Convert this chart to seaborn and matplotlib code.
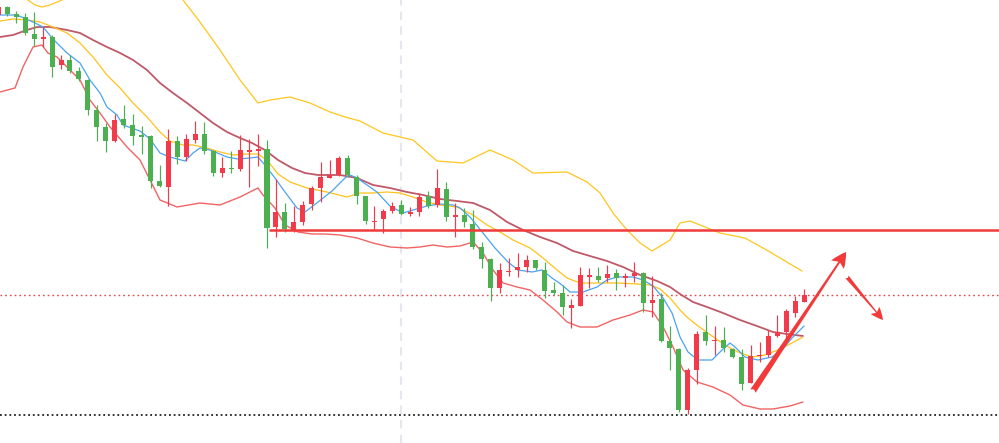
import numpy as np
import matplotlib
matplotlib.use("Agg")
import matplotlib.pyplot as plt
import seaborn as sns
from matplotlib.patches import FancyArrowPatch

sns.set_theme(style="white")
plt.rcParams['font.family'] = ['DejaVu Sans']

# ---------------- candle data (arbitrary price units) ----------------
bar_index = list(range(-1, 90))
opens = [428, 436, 429, 426, 409, 404, 406, 378, 383, 372, 363, 333, 316, 302, 324, 318, 307.5, 307, 262, 256,
         302, 286, 303, 309, 292, 270, 275, 274, 291.5, 292.5, 294, 216, 231, 213, 221, 239, 255, 265.5, 268, 285,
         266, 247, 221, 224, 232, 238, 229, 231, 247, 238, 254, 226.5, 228, 219, 196, 184, 155, 171, 173, 176,
         183, 173, 153, 150, 135, 137, 166.5, 167, 165, 170, 165, 167, 170, 140, 144, 102, 94, 33, 73, 111,
         102, 103, 94, 86, 60, 87, 88, 107, 111, 130, 141]
highs = [438, 437, 432, 430, 431, 416, 408, 388, 388, 376, 364, 338, 320, 329, 338, 329, 317, 308, 278, 314,
         307, 309, 322, 321, 293, 286, 292, 308, 304, 309, 303, 264, 240, 237, 242, 257, 281, 283, 287, 288,
         268, 247, 237, 234, 241, 243, 236, 250, 252, 274, 261, 240, 235, 233, 201, 185, 180, 185, 190, 188,
         183, 181, 161, 158, 144, 176, 175, 176, 178, 174, 170, 181, 171, 167, 150, 117, 95, 75, 112, 128,
         117, 116, 95, 94, 98, 101, 113, 128, 134, 147, 154]
lows = [426, 427, 420, 408, 397, 396, 366, 374, 370, 362, 328, 302, 291, 301, 315, 298, 289, 255, 256, 237,
        279, 282, 300, 289, 267, 266, 270, 272, 256, 277, 195, 206, 211, 211, 218, 233, 241, 265, 267, 266,
        239, 219, 213, 210, 230, 228, 227, 227, 235, 236, 222, 206, 216, 194, 175, 142, 150, 167, 166, 171,
        173, 145, 148, 128, 115, 137, 155, 161, 161, 153, 156, 161, 131, 126, 101, 73, 31, 29, 59, 98,
        88, 91, 85, 53, 60, 81, 86, 106, 101, 126, 141]
closes = [436, 429, 426, 410, 404, 406, 376, 383, 372, 364, 333, 316, 302, 323, 318, 307, 306.5, 262, 257, 302,
          286, 304, 309, 292, 270, 275, 274, 293, 293, 294, 215, 231, 214, 221, 238, 255, 266, 268, 285, 268,
          247, 222, 222.5, 232, 237, 229, 231, 246, 237, 255, 226, 228, 221, 196, 184, 155, 173, 172.5, 176, 183,
          175, 152, 150, 136, 138, 168, 168, 163, 169, 165, 167, 170, 140, 143, 102, 95, 33, 73, 109, 102,
          103, 95, 86, 59, 87, 88, 107, 111, 132, 142, 148]

# ---------------- indicator lines ----------------
ma_fast_x = [-0.82, 1.08, 2.87, 3.99, 5.1, 6.67, 8.12, 9.23, 10.35, 11.13, 12.25, 12.92, 14.82, 15.94, 17.05,
             18.17, 19.84, 20.74, 21.52, 22.64, 24.53, 25.76, 27.1, 27.99, 28.77, 29.89, 31.01, 32.35, 33.24,
             34.7, 36.26, 37.71, 38.27, 39.05, 40.17, 41.28, 42.73, 44.19, 45.3, 46.86, 48.32, 49.78, 50.56,
             51.67, 53.12, 54.46, 55.91, 57.03, 58.6, 59.71, 60.83, 61.95, 62.84, 64.29, 65.85, 66.97, 68.09,
             69.87, 70.99, 72.11, 73.23, 74.23, 75.12, 76.01, 77.13, 78.69, 79.81, 80.7, 81.26, 82.37, 83.83,
             85.39, 86.51, 87.62, 88.3, 88.97]
ma_fast_y = [428, 428, 421, 416, 404, 390, 380, 363, 350, 336, 328, 318, 312, 304, 290,
             286, 282, 290, 295, 293, 286, 284, 285, 286, 278, 265, 251, 235, 231,
             241, 252, 265, 268, 265, 258, 251, 237, 230, 233, 237, 239, 238, 235,
             226, 210, 195, 181, 173, 171, 173, 165, 158, 151, 151, 156, 163, 166,
             166, 163, 157, 145, 130, 106, 91, 83, 83, 93, 100, 96, 86, 83,
             86, 93, 105, 111, 117]

ma_mid_x = [-0.82, 0.64, 2.2, 3.65, 5.1, 6.67, 8.12, 9.57, 11.13, 12.59, 14.04, 15.6, 17.05, 18.17, 19.62,
            20.74, 22.3, 23.75, 25.2, 26.54, 27.99, 29.0, 30.23, 31.57, 33.47, 35.7, 37.93, 39.38, 40.84,
            42.4, 43.85, 45.3, 46.86, 48.32, 50.22, 52.01, 53.57, 55.02, 56.47, 58.37, 59.82, 61.39, 62.5,
            63.95, 65.85, 68.09, 70.32, 71.78, 72.89, 74.01, 75.12, 76.01, 77.13, 78.69, 80.14, 81.59, 83.16,
            84.61, 86.06, 87.62, 88.85]
ma_mid_y = [422, 424, 423, 421, 416, 410, 400, 386, 368, 355, 340, 326, 311, 302, 298,
            298, 295, 291, 288, 289, 289, 283, 269, 261, 255, 251, 246, 250, 250,
            251, 250, 246, 241, 238, 236, 228, 218, 211, 203, 195, 185, 173, 165,
            160, 160, 160, 159, 158, 154, 145, 133, 125, 117, 107, 98, 91, 86,
            88, 93, 100, 106]

ma_slow_x = [-0.82, 0.64, 2.2, 3.32, 4.77, 6.67, 8.12, 9.57, 11.13, 12.59, 14.04, 15.6, 17.05, 18.5, 20.07,
             21.52, 22.97, 24.53, 25.99, 27.33, 28.77, 30.23, 31.79, 33.24, 34.7, 37.15, 39.05, 40.84, 42.73,
             44.63, 46.42, 48.32, 50.22, 52.01, 53.9, 55.8, 57.59, 59.49, 61.39, 63.17, 65.07, 66.97, 68.76,
             70.66, 72.56, 74.01, 75.12, 76.57, 78.13, 79.92, 81.82, 83.71, 85.5, 87.07, 88.85]
ma_slow_y = [406, 408, 413, 416, 416, 413, 410, 403, 396, 390, 383, 373, 360, 350, 340,
             330, 320, 311, 305, 300, 293, 283, 275, 270, 268, 268, 265, 258, 255,
             251, 248, 244, 242, 240, 233, 221, 213, 206, 200, 192, 187, 182, 176,
             168, 162, 156, 149, 141, 136, 130, 123, 117, 111, 109, 107]

band_low_x = [-0.82, 0.86, 1.75, 2.87, 3.87, 4.54, 5.55, 6.67, 8.12, 9.23, 10.35, 11.47, 13.37, 14.82, 15.94,
              17.05, 18.95, 21.52, 23.75, 25.99, 26.88, 27.99, 28.55, 29.89, 31.01, 32.46, 34.03, 35.48, 37.15,
              39.05, 40.84, 42.73, 44.63, 46.08, 47.54, 49.11, 50.56, 52.01, 53.12, 54.24, 55.36, 56.92, 58.37,
              59.82, 61.39, 62.5, 63.95, 65.85, 67.64, 69.54, 70.99, 72.11, 73.23, 74.34, 75.46, 77.02, 78.8,
              80.7, 82.15, 84.05, 85.5, 87.4, 88.85]
band_low_y = [351, 355, 376, 396, 398, 390, 386, 376, 363, 343, 330, 316, 296, 283, 263,
              243, 236, 240, 238, 246, 250, 255, 248, 235, 218, 211, 209, 209, 208,
              205, 200, 196, 195, 196, 198, 196, 197, 201, 190, 173, 160, 156, 153,
              143, 131, 121, 116, 116, 123, 128, 133, 131, 116, 96, 73, 61, 56,
              48, 38, 34, 34, 37, 41]

band_up_x = [-0.82, 2.31, 3.09, 3.87, 4.77, 6.11, 8.12, 12.59, 17.05, 19.62, 21.52, 23.75, 25.99, 27.99, 29.33,
             31.57, 33.8, 36.04, 37.71, 39.38, 41.95, 45.3, 47.99, 50.89, 53.9, 56.47, 58.7, 62.5, 64.74,
             66.19, 67.64, 69.2, 70.66, 71.99, 74.01, 75.12, 76.24, 77.35, 79.58, 82.37, 85.17, 88.74]
band_up_y = [473, 443, 438, 436, 438, 443, 463, 483, 468, 443, 421, 393, 363, 340, 343,
             346, 340, 331, 326, 322, 310, 303, 282, 280, 293, 283, 270, 271, 261,
             250, 230, 213, 200, 192, 203, 220, 222, 218, 210, 205, 191, 172]

# reference levels / annotations
resistance_level = 213.5
resistance_start = 29.2
dotted_red_level = 148
dotted_black_level = 28
vline_index = 43.96
arrow_up_start = (83.27, 52)
arrow_up_end = (93.66, 191)
arrow_down_start = (93.77, 166)
arrow_down_end = (97.79, 123)

UP = '#f23a4b'
DOWN = '#4caf50'

fig = plt.figure(figsize=(9.99, 4.43), dpi=100)
ax = fig.add_axes([0, 0, 1, 1])
ax.set_xlim(-0.815, 110.74)
ax.set_ylim(0, 443)
ax.axis('off')
fig.patch.set_facecolor('white')

# background guides
ax.axvline(vline_index, color='#e6e6ee', lw=1.5, ls=(0, (4, 3)), zorder=0)
ax.axhline(dotted_red_level, color='#e04848', lw=1.0, ls=(0, (1.2, 2.2)), zorder=1)
ax.axhline(dotted_black_level, color='#222222', lw=1.3, ls=(0, (1, 1.6)), zorder=1)

# indicator lines
sns.lineplot(x=band_up_x, y=band_up_y, ax=ax, color='#ffc61e', lw=0.9, sort=False, estimator=None, zorder=2)
sns.lineplot(x=band_low_x, y=band_low_y, ax=ax, color='#f26464', lw=1.0, sort=False, estimator=None, zorder=2)
sns.lineplot(x=ma_slow_x, y=ma_slow_y, ax=ax, color='#bf5968', lw=1.3, sort=False, estimator=None, zorder=2)
sns.lineplot(x=ma_mid_x, y=ma_mid_y, ax=ax, color='#ffc21a', lw=0.9, sort=False, estimator=None, zorder=2)
sns.lineplot(x=ma_fast_x, y=ma_fast_y, ax=ax, color='#4aa3f0', lw=0.9, sort=False, estimator=None, zorder=2)

# candles
o = np.array(opens, float); c = np.array(closes, float)
h = np.array(highs, float); l = np.array(lows, float)
xs = np.array(bar_index, float)
cols = [UP if cc >= oo else DOWN for oo, cc in zip(o, c)]
ax.vlines(xs, l, h, colors=cols, lw=0.85, zorder=3)
bottoms = np.minimum(o, c)
heights = np.maximum(np.abs(c - o), 1.3)
ax.bar(xs, heights, bottom=bottoms, width=0.56, color=cols, linewidth=0, zorder=4)

# resistance line
ax.hlines(resistance_level, resistance_start, 110.74, color='#f03a3a', lw=1.8, zorder=5)

# arrows
a1 = FancyArrowPatch(arrow_up_start, arrow_up_end,
                     arrowstyle='fancy,head_length=1.1,head_width=1.1,tail_width=0.45',
                     mutation_scale=10, color='#f23a3a', shrinkA=0, shrinkB=0, zorder=6, lw=0)
a2 = FancyArrowPatch(arrow_down_start, arrow_down_end,
                     arrowstyle='fancy,head_length=0.9,head_width=0.8,tail_width=0.3',
                     mutation_scale=10, color='#f23a3a', shrinkA=0, shrinkB=0, zorder=6, lw=0)
ax.add_patch(a1)
ax.add_patch(a2)

fig.savefig('out.png', dpi=100, facecolor='white')
